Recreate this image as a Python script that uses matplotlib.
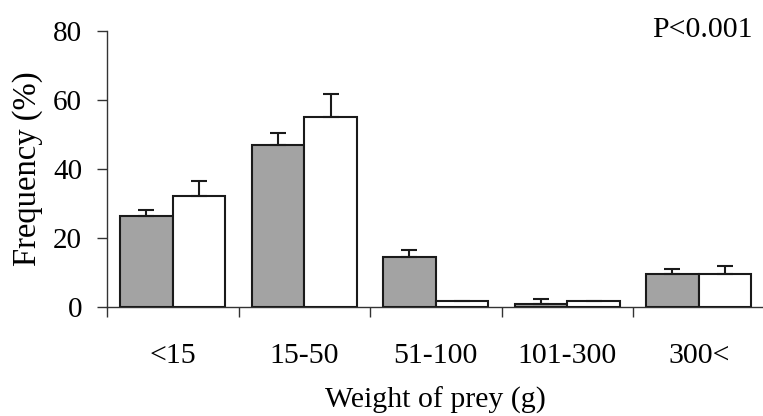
import matplotlib
matplotlib.use("Agg")
import matplotlib.pyplot as plt
import numpy as np

categories = ["<15", "15-50", "51-100", "101-300", "300<"]
gray_values = [26.5, 46.9, 14.6, 1.0, 9.6]
gray_err = [1.6, 3.4, 1.9, 1.4, 1.3]
white_values = [32.2, 55.0, 1.8, 1.7, 9.6]
white_err = [4.4, 6.8, 0.0, 0.0, 2.4]
y_ticks = [0, 20, 40, 60, 80]

plt.rcParams['font.family'] = ['Liberation Serif', 'DejaVu Serif']

fig = plt.figure(figsize=(7.63, 4.16), dpi=100)
ax = fig.add_axes([107/763, 1-307/416, 657.5/763, (307-31)/416])

x = np.arange(len(categories))
w = 0.4
ge = [np.zeros(len(gray_err)), gray_err]
ax.bar(x - w/2, gray_values, width=w, color="#a3a3a3", edgecolor="#1a1a1a",
       linewidth=1.5, yerr=ge, capsize=5.5,
       error_kw=dict(elinewidth=1.5, capthick=1.5, ecolor="#1a1a1a"), zorder=3)
ax.bar(x + w/2, white_values, width=w, color="white", edgecolor="#1a1a1a",
       linewidth=1.5, yerr=[np.zeros(5), [e if e > 0 else np.nan for e in white_err]],
       capsize=5.5,
       error_kw=dict(elinewidth=1.5, capthick=1.5, ecolor="#1a1a1a"), zorder=3)

ax.set_xlim(-0.5, len(categories) - 0.5)
ax.set_ylim(0, 80)
ax.set_yticks(y_ticks)
ax.set_yticklabels([str(v) for v in y_ticks], fontsize=21)
ax.tick_params(axis='y', direction='out', length=7, width=1, color="#333333", pad=11)

ax.set_xticks(x)
ax.set_xticklabels(categories, fontsize=21.5)
ax.tick_params(axis='x', which='major', length=0, pad=26)
ax.set_xticks(np.arange(-0.5, len(categories) - 0.5, 1.0), minor=True)
ax.tick_params(axis='x', which='minor', direction='out', length=7, width=1, color="#333333")

for s in ['top', 'right']:
    ax.spines[s].set_visible(False)
for s in ['left', 'bottom']:
    ax.spines[s].set_linewidth(1.0)
    ax.spines[s].set_color("#333333")

ax.set_ylabel("Frequency (%)", fontsize=23.5, labelpad=7)
ax.set_xlabel("Weight of prey (g)", fontsize=21.5, labelpad=13)

fig.text(753/763, 1 - 37/416, "P<0.001", fontsize=21.5, ha='right', va='baseline')

fig.savefig("out.png", dpi=100)
